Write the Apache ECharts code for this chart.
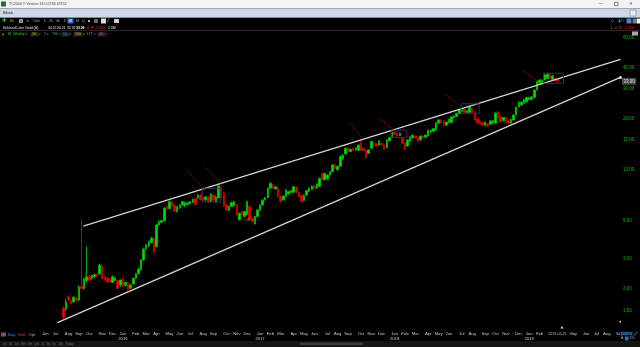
<!DOCTYPE html>
<html><head><meta charset="utf-8">
<script src="https://cdn.jsdelivr.net/npm/echarts@6/dist/echarts.min.js"></script>
<style>html,body{margin:0;padding:0;background:#000;overflow:hidden}#c{width:640px;height:347px;}</style>
</head><body><div id="c"></div>
<script>
// ---- data (weekly candles, Kirkland Lake Gold) ----
const axisStart = '2015-02-06';   // first weekly slot on the time scale
const weekCount = 240;            // weekly slots shown (incl. empty space)
const firstCandle = '2015-07-24'; // week of the first candle
const open = [
1.54,1.52,1.80,1.70,1.68,1.77,1.72,2.07,2.01,2.24,
2.38,2.30,2.36,2.43,2.45,2.72,2.36,2.32,2.27,2.19,
2.25,2.24,2.11,2.30,2.10,2.17,2.03,2.14,2.31,2.46,
2.60,2.96,3.43,3.58,3.74,3.97,3.55,4.75,4.92,5.03,
6.10,5.92,6.50,6.20,5.70,5.98,6.22,6.15,6.24,6.33,
6.45,6.80,6.84,7.12,6.90,6.66,6.95,6.50,7.12,6.45,
6.85,7.90,7.30,6.20,5.78,6.10,6.15,6.22,5.10,5.70,
5.33,5.45,6.10,5.20,4.82,5.32,5.80,6.22,6.66,6.87,
7.80,8.15,7.72,7.82,7.00,6.66,6.98,7.22,7.36,7.38,
7.90,7.35,7.10,6.60,7.12,7.50,7.65,8.05,7.82,8.00,
9.50,8.74,8.85,9.33,9.76,10.7,10.0,10.5,11.6,12.4,
13.5,12.8,13.4,13.1,13.0,14.0,13.4,13.0,12.5,13.4,
14.3,14.2,14.0,14.3,14.0,13.5,14.8,15.5,16.7,16.3,
15.9,15.5,14.3,13.8,14.7,15.4,15.8,15.5,15.0,15.8,
15.5,15.8,16.6,16.8,17.1,18.8,19.6,19.4,18.3,18.9,
18.9,20.2,20.6,21.4,22.0,22.6,21.5,21.7,22.9,21.9,
20.0,19.3,18.9,18.3,18.6,18.5,18.8,18.8,21.9,20.5,
19.4,20.3,19.4,18.8,19.6,21.0,23.4,24.0,24.6,25.0,
25.7,25.9,26.6,29.4,32.2,32.4,33.7,34.3,36.1,34.0,
34.3,34.15];
const close = [
1.36,1.68,1.73,1.64,1.79,1.71,2.06,2.01,2.29,2.36,
2.25,2.40,2.43,2.37,2.76,2.31,2.28,2.20,2.21,2.36,
2.33,2.02,2.26,2.08,2.18,1.99,2.11,2.31,2.46,2.62,
2.96,3.42,3.63,3.80,3.97,3.31,4.75,4.97,5.04,5.95,
5.90,6.50,6.14,5.72,6.10,6.22,6.50,6.40,6.40,6.50,
6.72,6.24,7.12,6.68,6.62,6.95,6.45,7.21,6.66,6.95,
8.04,6.85,6.12,5.82,6.10,6.44,6.50,5.45,5.57,5.45,
5.70,6.50,5.10,4.98,5.32,5.82,6.22,6.66,6.87,7.80,
8.34,7.82,7.97,6.96,6.52,7.02,7.62,7.45,7.55,7.97,
7.38,6.96,6.52,7.10,7.55,7.80,8.04,7.82,8.26,8.92,
8.74,9.55,9.33,9.76,10.7,10.2,10.5,12.0,12.2,13.4,
12.8,13.2,13.0,13.5,14.0,13.0,13.0,11.8,13.1,14.7,
14.0,13.8,14.8,14.0,13.2,15.0,15.5,16.7,16.2,15.8,
16.4,14.3,13.2,15.0,15.6,16.0,15.4,14.7,15.8,15.4,
16.0,17.1,17.1,17.5,18.9,19.6,18.8,18.3,19.1,19.8,
20.5,20.7,21.5,22.6,22.9,21.7,22.2,23.4,21.5,19.6,
18.8,18.5,18.3,19.1,18.1,19.4,19.4,21.5,20.2,19.1,
20.3,18.9,18.8,19.8,21.0,23.4,25.0,25.0,25.9,26.6,
26.6,26.8,29.4,33.0,33.7,33.7,36.1,36.5,34.3,35.6,
33.3,33.09];
const low = [
1.33,1.48,1.70,1.62,1.66,1.69,1.70,1.98,1.99,2.18,
2.22,2.27,2.33,2.34,2.42,2.28,2.24,2.17,2.17,2.16,
2.22,1.99,2.05,2.05,2.07,1.96,2.00,2.12,2.29,2.44,
2.56,2.93,3.38,3.52,3.70,3.25,3.50,4.70,4.88,5.00,
5.82,5.88,6.08,5.65,5.62,5.90,6.15,6.05,6.18,6.26,
6.40,6.18,6.78,6.62,6.55,6.60,6.40,6.45,6.60,6.40,
6.80,6.80,6.05,5.75,5.72,6.05,6.10,5.40,5.05,5.40,
5.28,5.40,5.05,4.92,4.78,5.28,5.75,6.18,6.62,6.82,
7.75,7.75,7.68,6.90,6.45,6.60,6.92,7.15,7.30,7.32,
7.30,6.90,6.40,6.55,7.05,7.42,7.60,7.75,7.78,7.95,
8.68,8.70,8.78,9.28,9.70,10.1,9.95,10.45,11.5,12.3,
12.7,12.7,12.9,13.0,12.9,12.9,12.9,11.7,12.4,13.3,
13.9,13.7,13.9,13.9,13.1,13.4,14.7,15.4,16.1,15.7,
15.8,14.2,13.1,13.7,14.6,15.3,15.3,14.6,14.9,15.3,
15.4,15.7,16.5,16.7,17.0,18.7,18.7,18.2,18.2,18.8,
18.8,20.1,20.5,21.3,21.9,21.6,21.4,21.6,21.4,19.5,
18.6,18.3,18.1,18.0,17.8,18.4,18.7,18.7,20.0,19.0,
19.3,18.8,18.5,18.7,19.5,20.9,23.3,23.9,24.5,24.9,
25.6,25.8,26.5,29.3,32.0,32.2,33.5,34.1,34.1,33.8,
33.1,32.32];
const high = [
1.58,1.75,1.84,1.74,1.82,1.80,2.10,5.15,2.32,3.55,
2.42,2.43,2.46,2.47,2.80,2.78,2.40,2.36,2.30,2.40,
2.36,2.27,2.28,2.34,2.21,2.20,2.14,2.33,2.49,2.66,
3.00,3.50,3.68,3.85,4.05,4.05,4.80,5.05,5.10,6.02,
6.20,6.60,6.60,6.28,6.15,6.28,6.55,6.50,6.48,6.58,
6.80,6.88,7.20,7.20,6.96,7.00,7.00,7.28,7.18,7.00,
8.15,8.10,7.45,6.30,6.15,6.50,6.60,6.30,5.62,5.78,
5.76,6.60,6.20,5.25,5.38,5.88,6.28,6.72,6.92,7.88,
8.45,8.25,8.02,7.90,7.08,7.08,7.70,7.50,7.60,8.05,
7.98,7.42,7.15,7.15,7.60,7.88,8.10,8.12,8.32,9.00,
9.62,9.62,9.40,9.85,10.8,10.85,10.6,12.1,12.35,13.5,
13.6,13.3,13.5,13.6,14.1,15.0,13.5,13.1,13.2,14.8,
14.4,14.3,14.9,14.4,14.1,15.1,15.6,16.8,16.8,16.4,
16.5,15.6,14.4,15.1,15.7,16.1,15.9,15.6,15.9,15.9,
16.1,17.2,17.2,17.6,19.0,19.8,19.8,19.5,19.2,19.9,
20.6,20.9,21.6,22.8,23.0,22.8,22.4,23.6,23.1,22.0,
20.2,19.6,19.0,19.2,18.8,19.5,19.5,21.8,22.1,20.6,
20.4,20.4,19.6,19.9,21.1,23.5,25.2,25.2,26.1,26.8,
26.8,27.0,29.6,33.3,34.0,34.0,36.4,37.0,36.5,35.9,
34.6,34.21];
const priceTicks = [60, 40, 30, 20, 15, 10, 5, 3, 2, 1.5];
const lastPrice = 33.09;
const monthNames = ['Jan','Feb','Mar','Apr','May','Jun','Jul','Aug','Sep','Oct','Nov','Dec'];
// drawn annotations: [date, price]
const upperTrend = [['2015-09-16', 4.68], ['2019-09-08', 44.5]];
const lowerTrend = [['2015-07-08', 1.27], ['2019-09-08', 34.9]];
const redLines = [
  [['2016-06-19', 10.1], ['2016-08-05', 7.86]],
  [['2016-08-09', 10.36], ['2016-09-22', 8.34]],
  [['2017-09-07', 18.6], ['2017-10-11', 15.3]],
  [['2017-11-26', 20.1], ['2017-12-31', 17.3]],
  [['2018-05-24', 27.5], ['2018-07-04', 23.5]],
  [['2018-12-20', 38.05], ['2019-01-31', 32.5]]
];
// boxes: [fromDate, toDate, lowPrice, highPrice]
const boxes = [
  ['2016-08-03', '2016-09-22', 6.50, 7.80],
  ['2017-12-27', '2018-02-07', 15.5, 17.1],
  ['2018-07-04', '2018-08-22', 21.5, 24.4],
  ['2019-02-12', '2019-04-07', 32.2, 36.9]
];

// ---- build ----
const DAY = 864e5, WEEK = 7 * DAY;
const ts = s => Date.parse(s + 'T00:00:00Z');
const iso = t => new Date(t).toISOString().slice(0, 10);
const base = ts(axisStart);
const categories = [];
for (let i = 0; i < weekCount; i++) categories.push(iso(base + i * WEEK));
const firstIdx = categories.indexOf(firstCandle);
const candleData = open.map((o, k) => [categories[firstIdx + k], o, close[k], low[k], high[k]]);

const F = '"Liberation Sans", Arial, sans-serif';
function txt(x, y, text, fill, size, extra) {
  return { type: 'text', x: x, y: y, z: 50, silent: true,
    style: Object.assign({ text: text, fill: fill, fontSize: size, fontFamily: F, align: 'left', verticalAlign: 'middle' }, extra || {}) };
}
function rect(x, y, w, h, fill, stroke) {
  return { type: 'rect', z: 40, silent: true, shape: { x: x, y: y, width: w, height: h },
    style: { fill: fill, stroke: stroke || null, lineWidth: stroke ? 0.8 : 0 } };
}
const graphics = [
  rect(0, 0, 640, 8.5, '#f3f3f3'),
  rect(1, 1.5, 5, 5, '#2d6b2d'),
  txt(9, 4.4, 'TC2000 ® Version 18.0.6738.18752', '#444', 3.6),
  txt(601, 4.2, '—', '#555', 4.5, { align: 'center' }),
  rect(614.5, 2.3, 3.5, 3.5, null, '#666'),
  txt(631, 4.3, '✕', '#555', 4.5, { align: 'center', fontFamily: 'DejaVu Sans' }),
  rect(0, 8.5, 640, 9, '#cdd8e6'),
  rect(0, 17, 640, 0.8, '#8797ab'),
  txt(3, 13, 'Blank', '#222', 4),
  rect(630, 10, 6, 6, '#e6edf5', '#8a9aae'),
  // toolbar
  txt(2, 21, '✚', '#2ed02e', 5.5, { fontFamily: 'DejaVu Sans' }),
  txt(10, 21, 'KL', '#e0c000', 3.8),
  rect(19, 19, 4, 4, '#888'),
  txt(26, 21, '∞', '#999', 4.5),
  txt(33, 21, '10m', '#aaa', 3.4),
  txt(44, 21, 'h', '#aaa', 3.4),
  txt(49, 21, '2h', '#aaa', 3.4),
  txt(56, 21, '4h', '#aaa', 3.4),
  txt(64, 21, 'D', '#aaa', 3.4),
  rect(67.5, 18.5, 6, 5, '#2f6fd0'),
  txt(70.5, 21, 'W', '#fff', 3.6, { align: 'center' }),
  txt(76, 21, 'M', '#aaa', 3.4),
  txt(82, 21, 'Q', '#aaa', 3.4),
  rect(88, 20, 2, 2, '#aaa'),
  rect(94, 19, 4, 4, '#666'),
  rect(101, 18.5, 5, 5, '#ddd'),
  txt(108, 21, '⁄', '#ccc', 5),
  rect(114, 19, 5, 4, '#ccc'),
  // top right icons
  txt(611, 21, '⌂', '#888', 4.5, { fontFamily: 'DejaVu Sans' }),
  rect(618.5, 19.5, 2, 3, '#2a7ae0'),
  txt(621, 21, '17', '#2bb02b', 3),
  rect(626.5, 18.5, 5, 5, '#4a80d0'),
  rect(632.5, 18.5, 3.5, 5, '#777'),
  rect(636.5, 18.5, 3.5, 5, '#eee'),
  // info row
  txt(3, 27.7, 'Kirkland Lake Gold (kl)', '#e6e6e6', 3.5),
  txt(48, 27.7, '34.15', '#e6e6e6', 3.4),
  txt(57, 27.7, '34.21', '#e6e6e6', 3.4),
  txt(67, 27.7, '32.32', '#e6e6e6', 3.4),
  txt(76, 27.7, '33.09', '#ffffff', 3.4, { fontWeight: 'bold' }),
  txt(86, 27.7, '-0.78', '#ff3030', 3.4),
  txt(95, 27.7, '-2.30%', '#ff3030', 3.4),
  txt(108, 27.7, '2.3M', '#e6e6e6', 3.4),
  txt(609.5, 27.7, '↓', '#ff2020', 5, { fontFamily: 'DejaVu Sans' }),
  txt(614, 27.7, '-0.78', '#ff2020', 3.4),
  txt(624, 27.7, '-2.30%', '#ff2020', 3.4),
  rect(0, 30.3, 640, 0.6, '#333'),
  // indicator row
  txt(2, 34.4, '‖', '#ccc', 4),
  txt(8, 34.4, 'KL Weekly', '#3bd03b', 3.5),
  txt(26, 34.4, '▾', '#888', 3),
  rect(30.5, 32.3, 8, 4.2, '#262626'), txt(32, 34.4, '10', '#d8c000', 3.5),
  txt(39, 34.4, '▾', '#888', 3),
  txt(44, 34.4, '2', '#3bd03b', 3.5), txt(47, 34.4, '▾', '#888', 3),
  txt(52, 34.4, 'TSL', '#3bd03b', 3.5), txt(59, 34.4, '▾', '#888', 3),
  rect(61.5, 32.3, 8, 4.2, '#262626'), txt(63, 34.4, '50', '#3a7ff0', 3.5), txt(70, 34.4, '▾', '#888', 3),
  rect(73.5, 32.3, 10, 4.2, '#262626'), txt(75, 34.4, '200', '#d8c000', 3.5), txt(84, 34.4, '▾', '#888', 3),
  txt(87, 34.4, 'LTT', '#999', 3.5), txt(94, 34.4, '▾', '#888', 3),
  rect(97.5, 32.3, 8, 4.2, '#262626'), txt(99, 34.4, '40', '#e040e0', 3.5), txt(106, 34.4, '▾', '#888', 3),
  rect(632, 31.5, 6, 4, '#aaa'),
  // bottom
  rect(1, 332.5, 5, 4, '#d03030'), rect(2.5, 333.5, 2.5, 2, '#3060d0'),
  txt(8, 335.3, 'Buy', '#3a8fff', 4.3),
  txt(18, 335.3, 'Sell', '#ff3030', 4.3),
  txt(28.5, 335.3, 'Opt', '#aaaaaa', 4.3),
  rect(0, 341, 640, 6, '#151515'),
  txt(3, 344, '1d   5d   1m   3m   6m   ytd   1y   3y   5y   10y   Today', '#777', 3),
  rect(300, 342.5, 63, 2.5, '#3c3c3c'),
  rect(620, 331.5, 13, 4, '#0b2a4a'),
  txt(621, 333.5, '5069%', '#5aa0ff', 3.6),
  txt(634, 333.5, '⤢', '#ccc', 4, { fontFamily: 'DejaVu Sans' }),
  txt(621, 338.5, 'A', '#bbb', 3.5), rect(625, 336.5, 3.5, 4, '#2f6fd0'), txt(629.5, 338.5, '5%', '#bbb', 3.5),
  { type: 'polygon', z: 50, silent: true, shape: { points: [[560.5, 328.5], [563.5, 328.5], [562, 326]] }, style: { fill: '#ddd' } },
  rect(619.5, 321, 1.5, 1.5, '#ddd'),
  Object.assign(txt(557.5, 333.6, '2019-02-21', '#bbb', 3.6, { align: 'center', backgroundColor: '#000', padding: [1, 3] }), { z: 100 }),
  txt(244, 220.5, '5.32', '#c07a10', 3.2)
];

const lineSeries = [];
function addLine(points, style, extra) {
  lineSeries.push(Object.assign({
    type: 'line', xAxisIndex: 1, yAxisIndex: 0, symbol: 'none', silent: true, animation: false,
    data: points.map(p => [ts(p[0]), p[1]]), lineStyle: style, z: 5
  }, extra || {}));
}
addLine(upperTrend, { color: '#d4d4d4', width: 1.3 });
lineSeries.push({
  type: 'line', xAxisIndex: 1, yAxisIndex: 0, silent: true, animation: false, z: 5,
  showSymbol: true, symbol: 'none',
  data: [
    { value: [ts(lowerTrend[0][0]), lowerTrend[0][1]] },
    { value: [ts(lowerTrend[1][0]), lowerTrend[1][1]], symbol: 'circle', symbolSize: 3, itemStyle: { color: '#e8e8e8' } }
  ],
  lineStyle: { color: '#d4d4d4', width: 1.3 }
});
redLines.forEach(seg => addLine(seg, { color: '#9a1010', width: 1, type: [1.5, 1.2] }));
boxes.forEach(b => addLine([[b[0], b[3]], [b[1], b[3]], [b[1], b[2]], [b[0], b[2]], [b[0], b[3]]],
  { color: '#4a2160', width: 1 }));

const chart = echarts.init(document.getElementById('c'), null, { renderer: 'canvas' });
chart.setOption({
  backgroundColor: '#000',
  animation: false,
  grid: { left: 0, right: 19, top: 30, bottom: 18, containLabel: false },
  xAxis: [{
    type: 'category', data: categories, boundaryGap: true,
    axisLine: { show: false }, axisTick: { show: false }, splitLine: { show: false },
    axisLabel: {
      margin: 2,
      interval: (i, v) => i > 0 && v >= '2015-06-01' && v.slice(0, 7) !== categories[i - 1].slice(0, 7),
      formatter: v => {
        const m = +v.slice(5, 7);
        return m === 1 ? '{m|' + monthNames[0] + '}\n{y|' + v.slice(0, 4) + '}' : '{m|' + monthNames[m - 1] + '}';
      },
      rich: {
        m: { fontSize: 4.2, color: '#c8c8c8', fontFamily: F, lineHeight: 5 },
        y: { fontSize: 4.2, color: '#c8c8c8', fontFamily: F, lineHeight: 5 }
      }
    }
  }, {
    type: 'time', show: false,
    min: base - 3.5 * DAY, max: base + (weekCount - 0.5) * WEEK
  }],
  yAxis: [{
    type: 'log', logBase: 10, min: 1.165, max: 66.2, position: 'right',
    axisLine: { show: false }, axisTick: { show: false }, splitLine: { show: false },
    axisLabel: { show: false }
  }],
  graphic: graphics,
  series: [{
    type: 'candlestick', xAxisIndex: 0, yAxisIndex: 0,
    data: candleData, encode: { x: 0, y: [1, 2, 3, 4] },
    barWidth: 2, z: 3,
    itemStyle: { color: '#00e000', borderColor: '#00b400', color0: '#f00000', borderColor0: '#c00000', borderWidth: 1 },
    markLine: {
      silent: true, animation: false, symbol: ['none', 'none'],
      lineStyle: { color: 'rgba(0,0,0,0)', width: 0.1 },
      label: { show: true, position: 'end', distance: 2, color: '#00c000', fontSize: 4.5, fontFamily: F },
      data: priceTicks.map(v => ({ yAxis: v, label: { formatter: v.toFixed(2) } })).concat([{
        yAxis: lastPrice,
        label: { formatter: lastPrice.toFixed(2), color: '#e8e8e8', backgroundColor: '#454545', padding: [1, 1.5], distance: 1 }
      }])
    }
  }].concat(lineSeries)
});
</script>
</body></html>
